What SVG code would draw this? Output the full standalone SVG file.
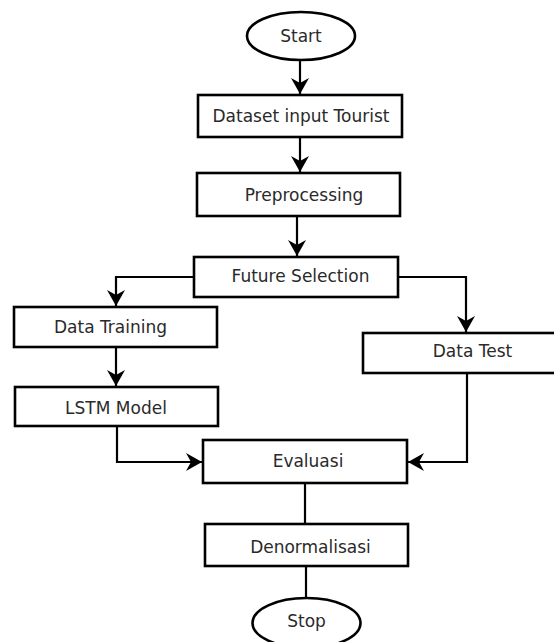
<svg xmlns="http://www.w3.org/2000/svg" width="554" height="642" viewBox="0 0 554 642">
<style>
.box{fill:#fff;stroke:#000;stroke-width:2.6}
.lbl{font-family:"DejaVu Sans","Liberation Sans",sans-serif;font-size:17px;fill:#2a2a2a;text-anchor:middle}
.con{fill:none;stroke:#000;stroke-width:2.2}
</style>
<defs>
<marker id="ah" viewBox="-18 -10 19 20" refX="0" refY="0" markerWidth="19" markerHeight="20" markerUnits="userSpaceOnUse" orient="auto">
<path d="M0,0 L-16,-9 L-11,0 L-16,9 Z" fill="#000"/>
</marker>
</defs>
<rect width="554" height="642" fill="#fff"/>
<g id="connectors">
<path class="con" d="M300,60 V94" marker-end="url(#ah)"/>
<path class="con" d="M300,137 V172" marker-end="url(#ah)"/>
<path class="con" d="M297,216 V256" marker-end="url(#ah)"/>
<path class="con" d="M194,277 H116 V306" marker-end="url(#ah)"/>
<path class="con" d="M398,277 H466 V332" marker-end="url(#ah)"/>
<path class="con" d="M116,347 V386" marker-end="url(#ah)"/>
<path class="con" d="M117,426 V462 H202" marker-end="url(#ah)"/>
<path class="con" d="M467,373 V462 H408" marker-end="url(#ah)"/>
<path class="con" d="M305,483 V524"/>
<path class="con" d="M306,566 V598"/>
</g>
<g id="start">
<ellipse class="box" cx="301" cy="36" rx="54" ry="24"/>
<text class="lbl" x="301" y="42">Start</text>
</g>
<g id="dataset">
<rect class="box" x="198" y="95" width="204" height="42"/>
<text class="lbl" x="301" y="122">Dataset input Tourist</text>
</g>
<g id="preprocessing">
<rect class="box" x="197" y="173" width="203" height="43"/>
<text class="lbl" x="304" y="201">Preprocessing</text>
</g>
<g id="future">
<rect class="box" x="194" y="257" width="204" height="40"/>
<text class="lbl" x="300.5" y="282">Future Selection</text>
</g>
<g id="training">
<rect class="box" x="14" y="307" width="203" height="40"/>
<text class="lbl" x="110.5" y="333">Data Training</text>
</g>
<g id="lstm">
<rect class="box" x="15" y="387" width="203" height="39"/>
<text class="lbl" x="116" y="414">LSTM Model</text>
</g>
<g id="test">
<rect class="box" x="363" y="333" width="220" height="40"/>
<text class="lbl" x="472.5" y="357">Data Test</text>
</g>
<g id="evaluasi">
<rect class="box" x="203" y="440" width="204" height="43"/>
<text class="lbl" x="308" y="467">Evaluasi</text>
</g>
<g id="denormalisasi">
<rect class="box" x="205" y="524" width="203" height="42"/>
<text class="lbl" x="310.5" y="553">Denormalisasi</text>
</g>
<g id="stop">
<ellipse class="box" cx="306.5" cy="623" rx="54" ry="25"/>
<text class="lbl" x="306.5" y="627">Stop</text>
</g>
</svg>
